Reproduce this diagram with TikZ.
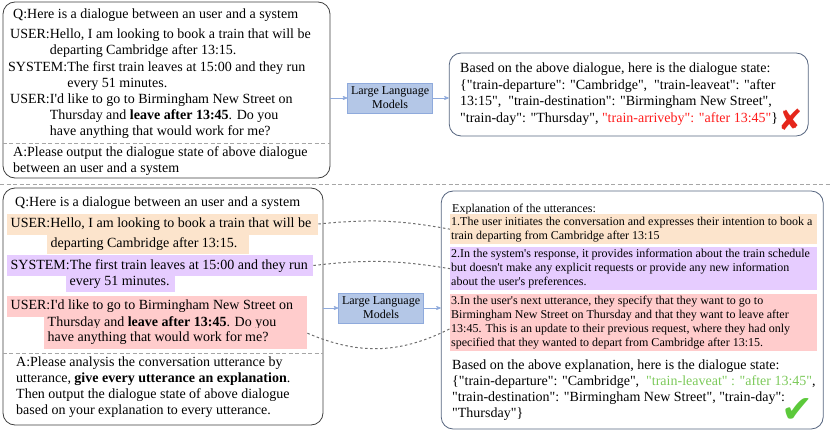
\documentclass[tikz,border=0pt]{standalone}
\usepackage{fontspec}
\setmainfont{Liberation Serif}[Ligatures=TeXOff]
\newfontfamily\symbolfont{DejaVu Sans}
\usetikzlibrary{arrows,positioning}

\definecolor{boxgray}{HTML}{3F3F3F}
\definecolor{ansblue}{HTML}{56657F}
\definecolor{llmfill}{HTML}{B4C7E7}
\definecolor{llmline}{HTML}{8FAADC}
\definecolor{uttone}{HTML}{FCE4CC}
\definecolor{uttsys}{HTML}{E6CCFF}
\definecolor{utttwo}{HTML}{FFCCCC}
\definecolor{dashgray}{HTML}{A6A6A6}
\definecolor{linkgray}{HTML}{6E6E6E}
\definecolor{wrongred}{HTML}{FF1A1A}
\definecolor{crossred}{HTML}{E5261B}
\definecolor{rightgreen}{HTML}{7CC95A}
\definecolor{tickgreen}{HTML}{5CC93B}

\tikzset{
  panel/.style={draw=boxgray, rounded corners=12pt, line width=0.8pt},
  answer/.style={draw=ansblue, rounded corners=12pt, line width=0.8pt},
  llm/.style={draw=llmline, fill=llmfill, minimum width=85pt, minimum height=30pt,
    align=flush center, inner sep=1pt, font=\fontsize{12}{14}\selectfont},
  txt/.style={anchor=base west, inner sep=0pt, font=\fontsize{14}{16}\selectfont},
  hl/.style={anchor=base west, inner xsep=3.5pt, inner ysep=3pt, text height=11pt,
    text depth=4pt, align=flush left, font=\fontsize{14}{16}\selectfont},
  expl/.style={anchor=north west, inner xsep=1pt, inner ysep=1pt, text width=365pt,
    align=flush left, font=\fontsize{12}{14}\selectfont},
  flow/.style={->, llmline, line width=0.7pt},
  link/.style={linkgray, line width=1pt, dash pattern=on 2.5pt off 2.5pt},
  divider/.style={dashgray, line width=0.8pt, dash pattern=on 4pt off 2.5pt}
}

\begin{document}
\begin{tikzpicture}[x=1pt,y=1pt,>=stealth']
  \useasboundingbox (0,0) rectangle (830,432);

  % plain prompt
  \node[panel, minimum width=327pt, minimum height=176pt] (qa) at (166.5,342) {};
  \draw[divider] ([yshift=35pt]qa.south west) -- ([yshift=35pt]qa.south east);
  \node[txt] (q1) at (13,413.5) {Q:Here is a dialogue between an user and a system};
  \node[txt] (u1) at (10,393) {USER:\parbox[t]{280pt}{Hello, I am looking to book a train that will be\\departing Cambridge after 13:15.}};
  \node[txt] (s1) at (8,360) {SYSTEM:\parbox[t]{260pt}{The first train leaves at 15:00 and they run\\every 51 minutes.}};
  \node[txt] (u2) at (10,328) {USER:\parbox[t]{280pt}{I'd like to go to Birmingham New Street on\\Thursday and \textbf{leave after 13:45}. Do you\\have anything that would work for me?}};
  \node[txt] (a1) at (13,275.5) {\parbox[t]{315pt}{A:Please output the dialogue state of above dialogue\\between an user and a system}};

  \node[llm, right=17pt of qa, yshift=-8pt] (llma) {Large Language\\Models};
  \node[answer, minimum width=359pt, minimum height=83pt, right=16pt of llma, yshift=3.5pt] (resa) {};
  \node[txt, font=\fontsize{14}{16.5}\selectfont] (ra) at (460,359) {\parbox[t]{340pt}{Based on the above dialogue, here is the dialogue state:\\
    \{"train-departure": "Cambridge",~ "train-leaveat": "after\\
    13:15",~ "train-destination": "Birmingham New Street",\\
    "train-day": "Thursday", \textcolor{wrongred}{"train-arriveby": "after 13:45"}\}}};
  \node[inner sep=0pt, text=crossred, font=\fontsize{29}{29}\symbolfont] (cross) at (791,312) {✘};

  \draw[flow] (qa.east |- llma.west) -- (llma.west);
  \draw[flow] (llma.east) -- (llma.east -| resa.west);

  \draw[divider] (0,248) -- (830,248);

  % prompt with explanation
  \node[panel, minimum width=320pt, minimum height=237pt] (qb) at (163,125.5) {};
  \draw[divider] ([yshift=72pt]qb.south west) -- ([yshift=72pt]qb.south east);
  \node[txt] (q2) at (15,225.5) {Q:Here is a dialogue between an user and a system};
  \node[hl, fill=uttone, text width=304pt] (u1a) at (7,204.5) {USER:Hello, I am looking to book a train that will be};
  \node[hl, fill=uttone, text width=195pt] (u1b) at (47,185) {departing Cambridge after 13:15.};
  \node[hl, fill=uttsys, text width=299pt] (s1a) at (7,163) {SYSTEM:The first train leaves at 15:00 and they run};
  \node[hl, fill=uttsys, text width=102pt] (s1b) at (66,147) {every 51 minutes.};
  \node[hl, fill=utttwo, text width=293pt] (u2a) at (7,122.5) {USER:I'd like to go to Birmingham New Street on};
  \node[hl, fill=utttwo, text width=256pt] (u2b) at (44,106) {Thursday and \textbf{leave after 13:45}. Do you};
  \node[hl, fill=utttwo, text width=256pt] (u2c) at (44,90.5) {have anything that would work for me?};
  \node[txt] (a2) at (16,65.5) {\parbox[t]{315pt}{A:Please analysis the conversation utterance by\\
    utterance, \textbf{give every utterance an explanation}.\\
    Then output the dialogue state of above dialogue\\
    based on your explanation to every utterance.}};

  \node[llm, right=15pt of qb, yshift=-1.5pt] (llmb) {Large Language\\Models};
  \node[answer, minimum width=382pt, minimum height=238pt, right=17pt of llmb, yshift=-2pt] (resb) {};
  \node[txt, font=\fontsize{12}{14}\selectfont] (exhd) at (452,220) {Explanation of the utterances:};
  \node[expl, fill=uttone, minimum height=30pt] (e1) at (450,218) {1.The user initiates the conversation and expresses their intention to book a\\
    train departing from Cambridge after 13:15};
  \node[expl, fill=uttsys, minimum height=43pt] (e2) at (450,185) {2.In the system's response, it provides information about the train schedule\\
    but doesn't make any explicit requests or provide any new information\\
    about the user's preferences.};
  \node[expl, fill=utttwo, minimum height=57pt] (e3) at (450,138) {3.In the user's next utterance, they specify that they want to go to\\
    Birmingham New Street on Thursday and that they want to leave after\\
    13:45. This is an update to their previous request, where they had only\\
    specified that they wanted to depart from Cambridge after 13:15.};
  \node[txt] (rb) at (452,63) {\parbox[t]{368pt}{Based on the above explanation, here is the dialogue state:\\
    \{"train-departure": "Cambridge",~ \textcolor{rightgreen}{"train-leaveat" : "after 13:45"},\\
    "train-destination": "Birmingham New Street", "train-day":\\
    "Thursday"\}}};
  \node[inner sep=0pt, text=tickgreen, font=\fontsize{38}{38}\symbolfont] (tick) at (797.5,21.5) {✔};

  \draw[flow] (qb.east |- llmb.west) -- (llmb.west);
  \draw[flow] (llmb.east) -- (llmb.east -| resb.west);

  \draw[link] (u1a.east) to[bend left=8] (e1.west);
  \draw[link] (s1a.east) to[bend left=8] (e2.west);
  \draw[link] (u2b.south east) to[bend right=25] ([yshift=-6pt]e3.west);
\end{tikzpicture}
\end{document}
